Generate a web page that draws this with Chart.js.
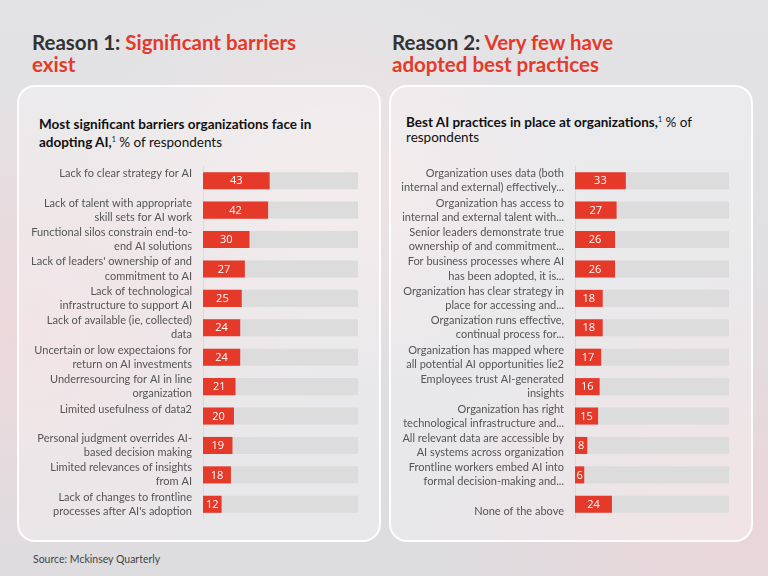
<!DOCTYPE html>
<html>
<head>
<meta charset="utf-8">
<script src="https://cdn.jsdelivr.net/npm/chart.js@4.4.0/dist/chart.umd.min.js"></script>
<style>
  html, body { margin: 0; padding: 0; }
  body {
    width: 768px; height: 576px; position: relative; overflow: hidden;
    font-family: "Lato", sans-serif;
    background:
      radial-gradient(ellipse 300px 260px at 20px 330px, rgba(240,214,218,0.8), rgba(240,214,218,0) 100%),
      radial-gradient(ellipse 320px 260px at 740px 520px, rgba(238,212,216,0.8), rgba(238,212,216,0) 100%),
      radial-gradient(ellipse 260px 200px at 330px 190px, rgba(244,228,230,0.7), rgba(244,228,230,0) 100%),
      linear-gradient(180deg, #e3e3e5 0%, #dcdcdf 100%);
  }
  .head { position: absolute; top: 31px; font-size: 20.5px; font-weight: 700; line-height: 22px; color: #333; white-space: nowrap; }
  .head span { color: #e5392a; }
  .card {
    position: absolute; top: 85px; height: 453px;
    border: 2px solid rgba(255,255,255,0.9); border-radius: 18px;
    background: rgba(255,255,255,0.32);
  }
  .sub { position: absolute; font-size: 13.5px; line-height: 15px; color: #111; white-space: nowrap; }
  .sub b { font-weight: 700; }
  .sub sup { font-size: 7px; vertical-align: 5px; }
  canvas { position: absolute; }
  .src { position: absolute; left: 33px; top: 553px; font-size: 10.5px; color: #444; }
</style>
</head>
<body>
<div class="head" style="left:32px;">Reason 1: <span>Significant barriers<br>exist</span></div>
<div class="head" style="left:392px;">Reason 2: <span>Very few have<br>adopted best practices</span></div>

<div class="card" style="left:17px; width:360px;"></div>
<div class="card" style="left:389px; width:360px;"></div>

<div class="sub" style="left:39px; top:117px;"><b>Most significant barriers organizations face in<br>adopting AI,</b><sup>1</sup> % of respondents</div>
<div class="sub" style="left:406px; top:112px;"><b>Best AI practices in place at organizations,</b><sup>1</sup> % of<br>respondents</div>

<canvas id="left" style="left:20px; top:166px;" width="345" height="353"></canvas>
<canvas id="right" style="left:395px; top:166px;" width="341" height="353"></canvas>

<div class="src">Source: Mckinsey Quarterly</div>

<script>
// Reason 1 - barriers
const barrierLabels = [
  ["Lack fo clear strategy for AI", ""],
  ["Lack of talent with appropriate", "skill sets for AI work"],
  ["Functional silos constrain end-to-", "end AI solutions"],
  ["Lack of leaders' ownership of and", "commitment to AI"],
  ["Lack of technological", "infrastructure to support AI"],
  ["Lack of available (ie, collected)", "data"],
  ["Uncertain or low expectaions for", "return on AI investments"],
  ["Underresourcing for AI in line", "organization"],
  ["Limited usefulness of data2", ""],
  ["Personal judgment overrides AI-", "based decision making"],
  ["Limited relevances of insights", "from AI"],
  ["Lack of changes to frontline", "processes after AI's adoption"]
];
const barrierValues = [43, 42, 30, 27, 25, 24, 24, 21, 20, 19, 18, 12];

// Reason 2 - best practices
const practiceLabels = [
  ["Organization uses data (both", "internal and external) effectively..."],
  ["Organization has access to", "internal and external talent with..."],
  ["Senior leaders demonstrate true", "ownership of and commitment..."],
  ["For business processes where AI", "has been adopted, it is..."],
  ["Organization has clear strategy in", "place for accessing and..."],
  ["Organization runs effective,", "continual process for..."],
  ["Organization has mapped where", "all potential AI opportunities lie2"],
  ["Employees trust AI-generated", "insights"],
  ["Organization has right", "technological infrastructure and..."],
  ["All relevant data are accessible by", "AI systems across organization"],
  ["Frontline workers embed AI into", "formal decision-making and..."],
  ["", "None of the above"]
];
const practiceValues = [33, 27, 26, 26, 18, 18, 17, 16, 15, 8, 6, 24];

const fullScale = 100;
const red = '#e5392a';
const track = '#dcdcdc';

// white numbers centred inside the red bars
const barValues = {
  id: 'barValues',
  afterDatasetsDraw(chart) {
    const ctx = chart.ctx;
    const meta = chart.getDatasetMeta(0);
    const vals = chart.data.datasets[0].data;
    ctx.save();
    ctx.fillStyle = '#fff';
    ctx.font = '11px "Open Sans", sans-serif';
    ctx.textAlign = 'center';
    ctx.textBaseline = 'middle';
    meta.data.forEach((bar, i) => {
      ctx.fillText(vals[i], (bar.x + bar.base) / 2, bar.y + 0.5);
    });
    ctx.restore();
  }
};

function makeChart(id, labels, values, axisWidth) {
  return new Chart(document.getElementById(id), {
    type: 'bar',
    data: {
      labels: labels,
      datasets: [
        { data: values, backgroundColor: red, grouped: false, barPercentage: 0.58, categoryPercentage: 1 },
        { data: labels.map(() => fullScale), backgroundColor: track, grouped: false, barPercentage: 0.58, categoryPercentage: 1 }
      ]
    },
    options: {
      indexAxis: 'y',
      responsive: false,
      animation: false,
      layout: { padding: { top: 0, bottom: 0, left: 0, right: 7 } },
      plugins: { legend: { display: false }, tooltip: { enabled: false } },
      scales: {
        x: { min: 0, max: fullScale, display: false },
        y: {
          grid: { display: false, drawTicks: false },
          border: { display: true, color: 'rgba(200,200,200,0.45)' },
          afterFit(scale) {
            scale.width = axisWidth;
            scale.paddingTop = 0;
            scale.paddingBottom = 0;
          },
          ticks: {
            autoSkip: false,
            padding: 11,
            color: '#555',
            font: { family: 'Lato, sans-serif', size: 11, lineHeight: 1.28 }
          }
        }
      }
    },
    plugins: [barValues]
  });
}

makeChart('left', barrierLabels, barrierValues, 183);
makeChart('right', practiceLabels, practiceValues, 180);
</script>
</body>
</html>
